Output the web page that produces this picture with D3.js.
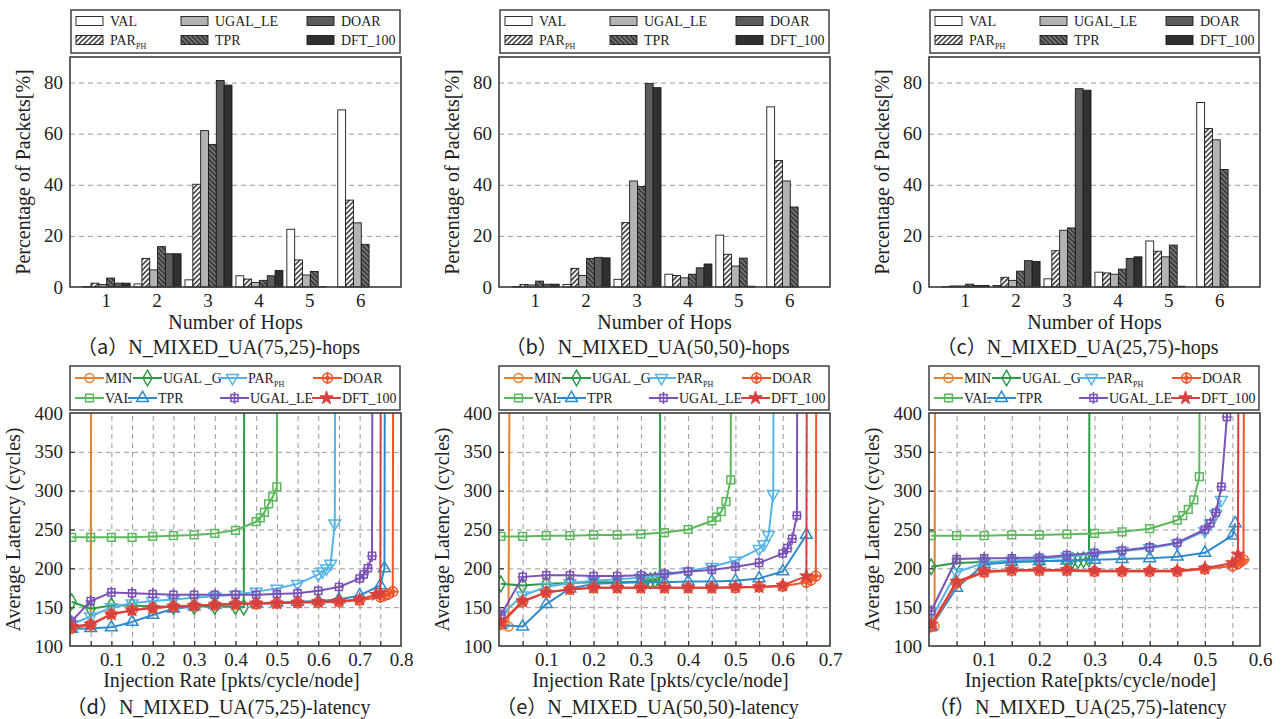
<!DOCTYPE html>
<html lang="en">
<head>
<meta charset="UTF-8">
<title>N_MIXED_UA hops and latency</title>
<script src="https://d3js.org/d3.v7.min.js"></script>
<style>
  body { margin: 0; background: #fff; }
  svg { display: block; font-family: "Liberation Serif", "Times New Roman", "DejaVu Serif", serif; }
  .tick text { font-size: 19px; fill: #222; font-family: "Liberation Serif", "Times New Roman", "DejaVu Serif", serif; }
  .grid line { stroke: #9a9a9a; stroke-dasharray: 5,4; }
  .grid path, .noline path { display: none; }
  .inticks line { stroke: #333; stroke-width: 1.2; }
  .axis-title { font-size: 20px; fill: #222; text-anchor: middle; }
  .caption { font-size: 20px; fill: #222; text-anchor: middle; }
  .cjk { font-family: "Noto Sans CJK SC", sans-serif; }
  .legend-text { font-size: 14px; fill: #222; }
</style>
</head>
<body>
<svg width="1282" height="719"></svg>
<script>
// ---- hop distribution data (percentage of packets), hops 1..6 ----
const hops = [1, 2, 3, 4, 5, 6];
const hopSeries = ['VAL', 'PAR', 'UGAL_LE', 'TPR', 'DOAR', 'DFT_100'];
const hopsA = [
  [0.2, 1.2, 2.8, 4.4, 22.6, 69.3],   // VAL
  [1.5, 11.2, 40.2, 3.1, 10.6, 34.0], // PAR_PH
  [1.0, 6.7, 61.2, 1.8, 4.7, 25.1],   // UGAL_LE
  [3.5, 15.8, 55.8, 2.6, 6.1, 16.7],  // TPR
  [1.5, 13.0, 80.8, 4.4, 0.1, 0],     // DOAR
  [1.5, 13.0, 79.0, 6.5, 0, 0]        // DFT_100
];
const hopsB = [
  [0.2, 1.0, 3.0, 5.0, 20.3, 70.5],
  [1.0, 7.3, 25.2, 4.5, 12.8, 49.5],
  [0.8, 4.5, 41.5, 3.6, 8.2, 41.5],
  [2.3, 11.2, 39.3, 5.0, 11.3, 31.3],
  [1.1, 11.6, 79.6, 7.5, 0.3, 0],
  [1.1, 11.4, 78.0, 9.0, 0, 0]
];
const hopsC = [
  [0.1, 0.6, 3.2, 5.8, 18.0, 72.2],
  [0.4, 3.8, 14.2, 5.5, 14.0, 62.0],
  [0.4, 2.6, 22.2, 5.0, 11.8, 57.6],
  [1.1, 6.2, 23.1, 7.0, 16.4, 46.0],
  [0.6, 10.3, 77.6, 11.2, 0.3, 0],
  [0.6, 10.0, 77.0, 11.8, 0, 0]
];
const hopTicksY = [0, 20, 40, 60, 80];

// ---- latency data [injection rate, avg latency] ----
const latNames = ['MIN', 'UGAL_G', 'PAR', 'DOAR', 'VAL', 'TPR', 'UGAL_LE', 'DFT_100'];
const latLabels = ['MIN', 'UGAL _G', 'PAR', 'DOAR', 'VAL', 'TPR', 'UGAL_LE', 'DFT_100'];

const d_MIN = [[0.004,122],[0.05,128],[0.06,3000]];
const d_UGALG = [[0.004,157],[0.05,148],[0.1,152],[0.15,152],[0.2,151],[0.25,151],[0.3,151],[0.35,151],[0.4,151],[0.42,150],[0.43,3000]];
const d_PAR = [[0.004,128],[0.05,138],[0.1,150],[0.15,155],[0.2,158],[0.25,160],[0.3,162],[0.35,164],[0.4,166],[0.45,170],[0.5,174],[0.55,180],[0.6,192],[0.61,196],[0.62,200],[0.63,206],[0.64,258],[0.65,3000]];
const d_DOAR = [[0.004,124],[0.05,127],[0.1,141],[0.15,146],[0.2,149],[0.25,151],[0.3,152],[0.35,153],[0.4,154],[0.45,154],[0.5,155],[0.55,156],[0.6,156],[0.65,157],[0.7,159],[0.75,163],[0.76,165],[0.77,167],[0.78,170],[0.79,3000]];
const d_VAL = [[0.004,240],[0.05,240],[0.1,240],[0.15,240],[0.2,241],[0.25,242],[0.3,243],[0.35,245],[0.4,249],[0.45,260],[0.46,265],[0.47,272],[0.48,283],[0.49,292],[0.5,305],[0.51,3000]];
const d_TPR = [[0.004,122],[0.05,123],[0.1,124],[0.15,131],[0.2,140],[0.25,148],[0.3,151],[0.35,153],[0.4,154],[0.45,155],[0.5,156],[0.55,157],[0.6,158],[0.65,160],[0.7,165],[0.75,178],[0.76,200],[0.77,3000]];
const d_UGALLE = [[0.004,132],[0.05,158],[0.1,169],[0.15,168],[0.2,167],[0.25,166],[0.3,166],[0.35,166],[0.4,166],[0.45,166],[0.5,167],[0.55,168],[0.6,171],[0.65,176],[0.7,187],[0.71,192],[0.72,200],[0.73,216],[0.74,3000]];
const d_DFT = [[0.004,125],[0.05,128],[0.1,141],[0.15,146],[0.2,149],[0.25,151],[0.3,152],[0.35,153],[0.4,154],[0.45,155],[0.5,155],[0.55,156],[0.6,157],[0.65,158],[0.7,160],[0.74,166],[0.75,168],[0.76,3000]];

const e_MIN = [[0.004,130],[0.02,125],[0.03,1500]];
const e_UGALG = [[0.004,180],[0.05,178],[0.1,180],[0.15,181],[0.2,182],[0.25,182],[0.3,183],[0.31,184],[0.32,184],[0.33,185],[0.34,186],[0.35,3000]];
const e_PAR = [[0.004,140],[0.05,165],[0.1,176],[0.15,181],[0.2,184],[0.25,186],[0.3,188],[0.35,191],[0.4,196],[0.45,202],[0.5,210],[0.55,225],[0.56,231],[0.57,243],[0.58,296],[0.59,3000]];
const e_DOAR = [[0.004,128],[0.05,157],[0.1,169],[0.15,173],[0.2,175],[0.25,175],[0.3,175],[0.35,175],[0.4,175],[0.45,175],[0.5,175],[0.55,176],[0.6,177],[0.65,182],[0.66,185],[0.67,190],[0.68,3000]];
const e_VAL = [[0.004,241],[0.05,241],[0.1,242],[0.15,242],[0.2,243],[0.25,243],[0.3,244],[0.35,246],[0.4,250],[0.45,261],[0.46,266],[0.47,273],[0.48,286],[0.49,314],[0.5,3000]];
const e_TPR = [[0.004,127],[0.05,125],[0.1,154],[0.15,174],[0.2,180],[0.25,181],[0.3,182],[0.35,182],[0.4,183],[0.45,183],[0.5,184],[0.55,187],[0.6,196],[0.65,243]];
const e_UGALLE = [[0.004,140],[0.05,189],[0.1,191],[0.15,191],[0.2,190],[0.25,190],[0.3,191],[0.35,193],[0.4,196],[0.45,198],[0.5,202],[0.55,207],[0.6,219],[0.61,226],[0.62,238],[0.63,268],[0.64,3000]];
const e_DFT = [[0.004,130],[0.05,158],[0.1,169],[0.15,173],[0.2,175],[0.25,175],[0.3,175],[0.35,175],[0.4,175],[0.45,175],[0.5,176],[0.55,176],[0.6,178],[0.65,190],[0.66,3000]];

const f_MIN = [[0.004,130],[0.01,125],[0.02,3000]];
const f_UGALG = [[0.004,202],[0.05,207],[0.1,208],[0.15,209],[0.2,209],[0.25,210],[0.26,210],[0.27,210],[0.28,211],[0.29,212],[0.3,3000]];
const f_PAR = [[0.004,135],[0.05,195],[0.1,207],[0.15,210],[0.2,212],[0.25,215],[0.3,218],[0.35,222],[0.4,226],[0.45,232],[0.5,248],[0.51,258],[0.52,270],[0.53,288]];
const f_DOAR = [[0.004,125],[0.05,181],[0.1,195],[0.15,197],[0.2,197],[0.25,197],[0.3,196],[0.35,196],[0.4,196],[0.45,196],[0.5,199],[0.55,203],[0.56,206],[0.565,209],[0.57,211],[0.58,3000]];
const f_VAL = [[0.004,242],[0.05,242],[0.1,242],[0.15,243],[0.2,243],[0.25,244],[0.3,245],[0.35,247],[0.4,251],[0.45,262],[0.46,268],[0.47,276],[0.48,288],[0.49,318],[0.5,3000]];
const f_TPR = [[0.004,125],[0.05,175],[0.1,205],[0.15,208],[0.2,209],[0.25,210],[0.3,211],[0.35,212],[0.4,213],[0.45,215],[0.5,220],[0.55,242],[0.555,258]];
const f_UGALLE = [[0.004,145],[0.05,212],[0.1,213],[0.15,213],[0.2,214],[0.25,217],[0.3,220],[0.35,223],[0.4,227],[0.45,233],[0.5,250],[0.51,258],[0.52,272],[0.53,305],[0.54,395],[0.55,3000]];
const f_DFT = [[0.004,128],[0.05,183],[0.1,196],[0.15,198],[0.2,198],[0.25,198],[0.3,197],[0.35,197],[0.4,197],[0.45,197],[0.5,200],[0.55,207],[0.56,218],[0.57,3000]];

const latTicksY = [100, 150, 200, 250, 300, 350, 400];
const latTicksD = [0.1, 0.2, 0.3, 0.4, 0.5, 0.6, 0.7, 0.8];
const latTicksE = [0.1, 0.2, 0.3, 0.4, 0.5, 0.6, 0.7];
const latTicksF = [0.1, 0.2, 0.3, 0.4, 0.5, 0.6];

// ---- styles ----
const hopFills = ['#ffffff', 'url(#hatchPar)', '#b3b3b3', 'url(#hatchTpr)', '#5c5c5c', '#303030'];
const latColors = ['#e8812e', '#2f9a45', '#55b4e6', '#f2552a', '#5cb85c', '#2e8bcb', '#7c52b8', '#d8403f'];
const latMarkers = ['circle', 'diamond', 'triDown', 'circlePlus', 'square', 'triUp', 'squarePlus', 'star'];
const drawOrder = [0, 1, 4, 2, 5, 6, 3, 7];

const W = 331;
const svg = d3.select('svg');
svg.append('rect').attr('width', 1282).attr('height', 719).attr('fill', '#fff');

const defs = svg.append('defs');
const p1 = defs.append('pattern').attr('id', 'hatchPar').attr('patternUnits', 'userSpaceOnUse')
  .attr('width', 3.6).attr('height', 3.6).attr('patternTransform', 'rotate(45)');
p1.append('rect').attr('width', 3.6).attr('height', 3.6).attr('fill', '#fff');
p1.append('line').attr('x1', 0.8).attr('y1', 0).attr('x2', 0.8).attr('y2', 3.6).attr('stroke', '#111').attr('stroke-width', 1.3);
const p2 = defs.append('pattern').attr('id', 'hatchTpr').attr('patternUnits', 'userSpaceOnUse')
  .attr('width', 3.4).attr('height', 3.4).attr('patternTransform', 'rotate(-45)');
p2.append('rect').attr('width', 3.4).attr('height', 3.4).attr('fill', '#3a3a3a');
p2.append('line').attr('x1', 0.8).attr('y1', 0).attr('x2', 0.8).attr('y2', 3.4).attr('stroke', '#a8a8a8').attr('stroke-width', 0.9);

function addLabel(textSel, label) {
  if (label === 'PAR') {
    textSel.append('tspan').text('PAR');
    textSel.append('tspan').attr('font-size', 8).attr('dy', 4).text('PH');
  } else {
    textSel.text(label);
  }
}

// caption: full-width parentheses in the CJK font, the rest in the serif face
function addCaption(g, xPos, yPos, letter, rest) {
  const t = g.append('text').attr('class', 'caption').attr('x', xPos).attr('y', yPos);
  t.append('tspan').attr('class', 'cjk').text('（' + letter);
  t.append('tspan').attr('class', 'cjk').text('）');
  t.append('tspan').text(rest);
}

function drawMarker(g, type, color) {
  const sym = d3.symbol();
  if (type === 'circle') {
    g.append('circle').attr('r', 4.5).attr('fill', 'none').attr('stroke', color).attr('stroke-width', 1.5);
  } else if (type === 'diamond') {
    g.append('path').attr('d', sym.type(d3.symbolDiamond).size(70)()).attr('fill', 'none').attr('stroke', color).attr('stroke-width', 1.5);
  } else if (type === 'triUp') {
    g.append('path').attr('d', sym.type(d3.symbolTriangle).size(60)()).attr('fill', 'none').attr('stroke', color).attr('stroke-width', 1.5);
  } else if (type === 'triDown') {
    g.append('path').attr('d', sym.type(d3.symbolTriangle).size(60)()).attr('transform', 'rotate(180)')
      .attr('fill', 'none').attr('stroke', color).attr('stroke-width', 1.5);
  } else if (type === 'square') {
    g.append('path').attr('d', sym.type(d3.symbolSquare).size(60)()).attr('fill', 'none').attr('stroke', color).attr('stroke-width', 1.5);
  } else if (type === 'squarePlus') {
    g.append('path').attr('d', sym.type(d3.symbolSquare).size(50)()).attr('fill', 'none').attr('stroke', color).attr('stroke-width', 1.5);
    g.append('path').attr('d', 'M0,-6V6M-5,0H5').attr('stroke', color).attr('stroke-width', 1.5);
  } else if (type === 'circlePlus') {
    g.append('circle').attr('r', 4.8).attr('fill', 'none').attr('stroke', color).attr('stroke-width', 1.6);
    g.append('path').attr('d', 'M0,-6V6M-6,0H6').attr('stroke', color).attr('stroke-width', 1.6);
    g.append('circle').attr('r', 2).attr('fill', 'none').attr('stroke', color).attr('stroke-width', 1.2);
  } else if (type === 'star') {
    g.append('path').attr('d', sym.type(d3.symbolStar).size(55)()).attr('fill', color).attr('stroke', color).attr('stroke-width', 1);
  }
}

// ---------------- hop panels ----------------
function drawHops(left, values, letter, rest) {
  const g = svg.append('g').attr('transform', `translate(${left},0)`);
  const top = 57, bottom = 287;
  const x = d3.scaleLinear().domain([0.3, 6.8]).range([0, W]);
  const y = d3.scaleLinear().domain([0, 90]).range([bottom, top]);
  const inner = d3.scaleBand().domain(hopSeries).range([-22.5, 24.5]);

  g.append('g').attr('class', 'grid')
    .call(d3.axisLeft(y).tickValues([20, 40, 60, 80]).tickSize(-W).tickFormat(''));

  hopSeries.forEach((s, si) => {
    g.append('g').selectAll('rect')
      .data(values[si])
      .enter().append('rect')
      .attr('x', (d, i) => x(hops[i]) + inner(s))
      .attr('y', d => y(d))
      .attr('width', inner.bandwidth())
      .attr('height', d => bottom - y(d))
      .attr('fill', hopFills[si])
      .attr('stroke', d => d > 0 ? '#1a1a1a' : 'none')
      .attr('stroke-width', 0.9);
  });

  g.append('rect').attr('x', 0).attr('y', top).attr('width', W).attr('height', bottom - top)
    .attr('fill', 'none').attr('stroke', '#3a3a3a').attr('stroke-width', 1.6);

  g.append('g').attr('class', 'noline')
    .call(d3.axisLeft(y).tickValues(hopTicksY).tickSize(0).tickPadding(7));
  g.append('g').attr('class', 'noline').attr('transform', `translate(0,${bottom})`)
    .call(d3.axisBottom(x).tickValues(hops).tickSize(0).tickPadding(7).tickFormat(d3.format('d')));

  g.append('text').attr('class', 'axis-title').attr('x', W / 2).attr('y', 329).text('Number of Hops');
  g.append('text').attr('class', 'axis-title')
    .attr('transform', `translate(-40,${(top + bottom) / 2}) rotate(-90)`)
    .text('Percentage of Packets[%]');
  addCaption(g, W / 2 - 17, 354, letter, rest);

  // legend
  const lg = g.append('g').attr('transform', 'translate(1,10)');
  lg.append('rect').attr('width', W - 2).attr('height', 43)
    .attr('fill', '#fff').attr('stroke', '#4a4a4a').attr('stroke-width', 1.6);
  const colX = [5, 110, 236];
  hopSeries.forEach((s, si) => {
    const cx = colX[Math.floor(si / 2)];
    const cy = si % 2 === 0 ? 11 : 30;
    lg.append('rect').attr('x', cx).attr('y', cy - 4.5).attr('width', 27).attr('height', 9)
      .attr('fill', hopFills[si]).attr('stroke', '#1a1a1a').attr('stroke-width', 0.9);
    const t = lg.append('text').attr('class', 'legend-text').attr('x', cx + 34).attr('y', cy + 5);
    addLabel(t, s);
  });
}

// ---------------- latency panels ----------------
function drawLatency(idx, left, xMax, xTicks, series, xTitle, letter, rest) {
  const g = svg.append('g').attr('transform', `translate(${left},0)`);
  const top = 413, bottom = 646;
  const x = d3.scaleLinear().domain([0, xMax]).range([0, W]);
  const y = d3.scaleLinear().domain([100, 400]).range([bottom, top]);
  const gridX = d3.range(0.05, xMax - 0.01, 0.05);

  g.append('g').attr('class', 'grid').attr('transform', `translate(0,${bottom})`)
    .call(d3.axisBottom(x).tickValues(gridX).tickSize(-(bottom - top)).tickFormat(''));
  g.append('g').attr('class', 'grid')
    .call(d3.axisLeft(y).tickValues([150, 200, 250, 300, 350]).tickSize(-W).tickFormat(''));
  g.append('g').attr('class', 'inticks noline').attr('transform', `translate(0,${bottom})`)
    .call(d3.axisBottom(x).tickValues(gridX).tickSize(-5).tickFormat(''));
  g.append('g').attr('class', 'inticks noline')
    .call(d3.axisLeft(y).tickValues([150, 200, 250, 300, 350]).tickSize(-5).tickFormat(''));

  const clipId = 'clip' + idx;
  svg.select('defs').append('clipPath').attr('id', clipId)
    .append('rect').attr('x', 0).attr('y', top).attr('width', W).attr('height', bottom - top);
  const plot = g.append('g').attr('clip-path', `url(#${clipId})`);
  const line = d3.line().x(d => x(d[0])).y(d => y(d[1]));

  drawOrder.forEach(si => {
    const data = series[si];
    plot.append('path').datum(data).attr('d', line)
      .attr('fill', 'none').attr('stroke', latColors[si]).attr('stroke-width', 2)
      .attr('stroke-linejoin', 'round');
    data.filter(d => d[1] <= 420).forEach(d => {
      const mg = plot.append('g').attr('transform', `translate(${x(d[0])},${y(d[1])})`);
      drawMarker(mg, latMarkers[si], latColors[si]);
    });
  });

  g.append('rect').attr('x', 0).attr('y', top).attr('width', W).attr('height', bottom - top)
    .attr('fill', 'none').attr('stroke', '#3a3a3a').attr('stroke-width', 1.6);

  g.append('g').attr('class', 'noline')
    .call(d3.axisLeft(y).tickValues(latTicksY).tickSize(0).tickPadding(7));
  g.append('g').attr('class', 'noline').attr('transform', `translate(0,${bottom})`)
    .call(d3.axisBottom(x).tickValues(xTicks).tickSize(0).tickPadding(7).tickFormat(d3.format('.1f')));

  g.append('text').attr('class', 'axis-title').attr('x', W / 2 - 4).attr('y', 687).text(xTitle);
  g.append('text').attr('class', 'axis-title')
    .attr('transform', `translate(-50,${(top + bottom) / 2}) rotate(-90)`)
    .text('Average Latency (cycles)');
  addCaption(g, W / 2 - 17, 714, letter, rest);

  // legend
  const lg = g.append('g').attr('transform', 'translate(0,366)');
  lg.append('rect').attr('width', W - 1).attr('height', 44)
    .attr('fill', '#fff').attr('stroke', '#4a4a4a').attr('stroke-width', 1.6);
  const itemX = [5, 63, 148, 243, 5, 58, 150, 242];
  latNames.forEach((n, si) => {
    const lx = itemX[si];
    const ly = si < 4 ? 12 : 32;
    lg.append('line').attr('x1', lx).attr('x2', lx + 29).attr('y1', ly).attr('y2', ly)
      .attr('stroke', latColors[si]).attr('stroke-width', 2);
    drawMarker(lg.append('g').attr('transform', `translate(${lx + 14.5},${ly})`), latMarkers[si], latColors[si]);
    const t = lg.append('text').attr('class', 'legend-text').attr('x', lx + 30).attr('y', ly + 5);
    addLabel(t, latLabels[si]);
  });
}

drawHops(70, hopsA, 'a', 'N_MIXED_UA(75,25)-hops');
drawHops(499, hopsB, 'b', 'N_MIXED_UA(50,50)-hops');
drawHops(929, hopsC, 'c', 'N_MIXED_UA(25,75)-hops');

drawLatency(0, 70, 0.8, latTicksD,
  [d_MIN, d_UGALG, d_PAR, d_DOAR, d_VAL, d_TPR, d_UGALLE, d_DFT],
  'Injection Rate [pkts/cycle/node]', 'd', 'N_MIXED_UA(75,25)-latency');
drawLatency(1, 499, 0.7, latTicksE,
  [e_MIN, e_UGALG, e_PAR, e_DOAR, e_VAL, e_TPR, e_UGALLE, e_DFT],
  'Injection Rate [pkts/cycle/node]', 'e', 'N_MIXED_UA(50,50)-latency');
drawLatency(2, 929, 0.6, latTicksF,
  [f_MIN, f_UGALG, f_PAR, f_DOAR, f_VAL, f_TPR, f_UGALLE, f_DFT],
  'Injection Rate[pkts/cycle/node]', 'f', 'N_MIXED_UA(25,75)-latency');
</script>
</body>
</html>
